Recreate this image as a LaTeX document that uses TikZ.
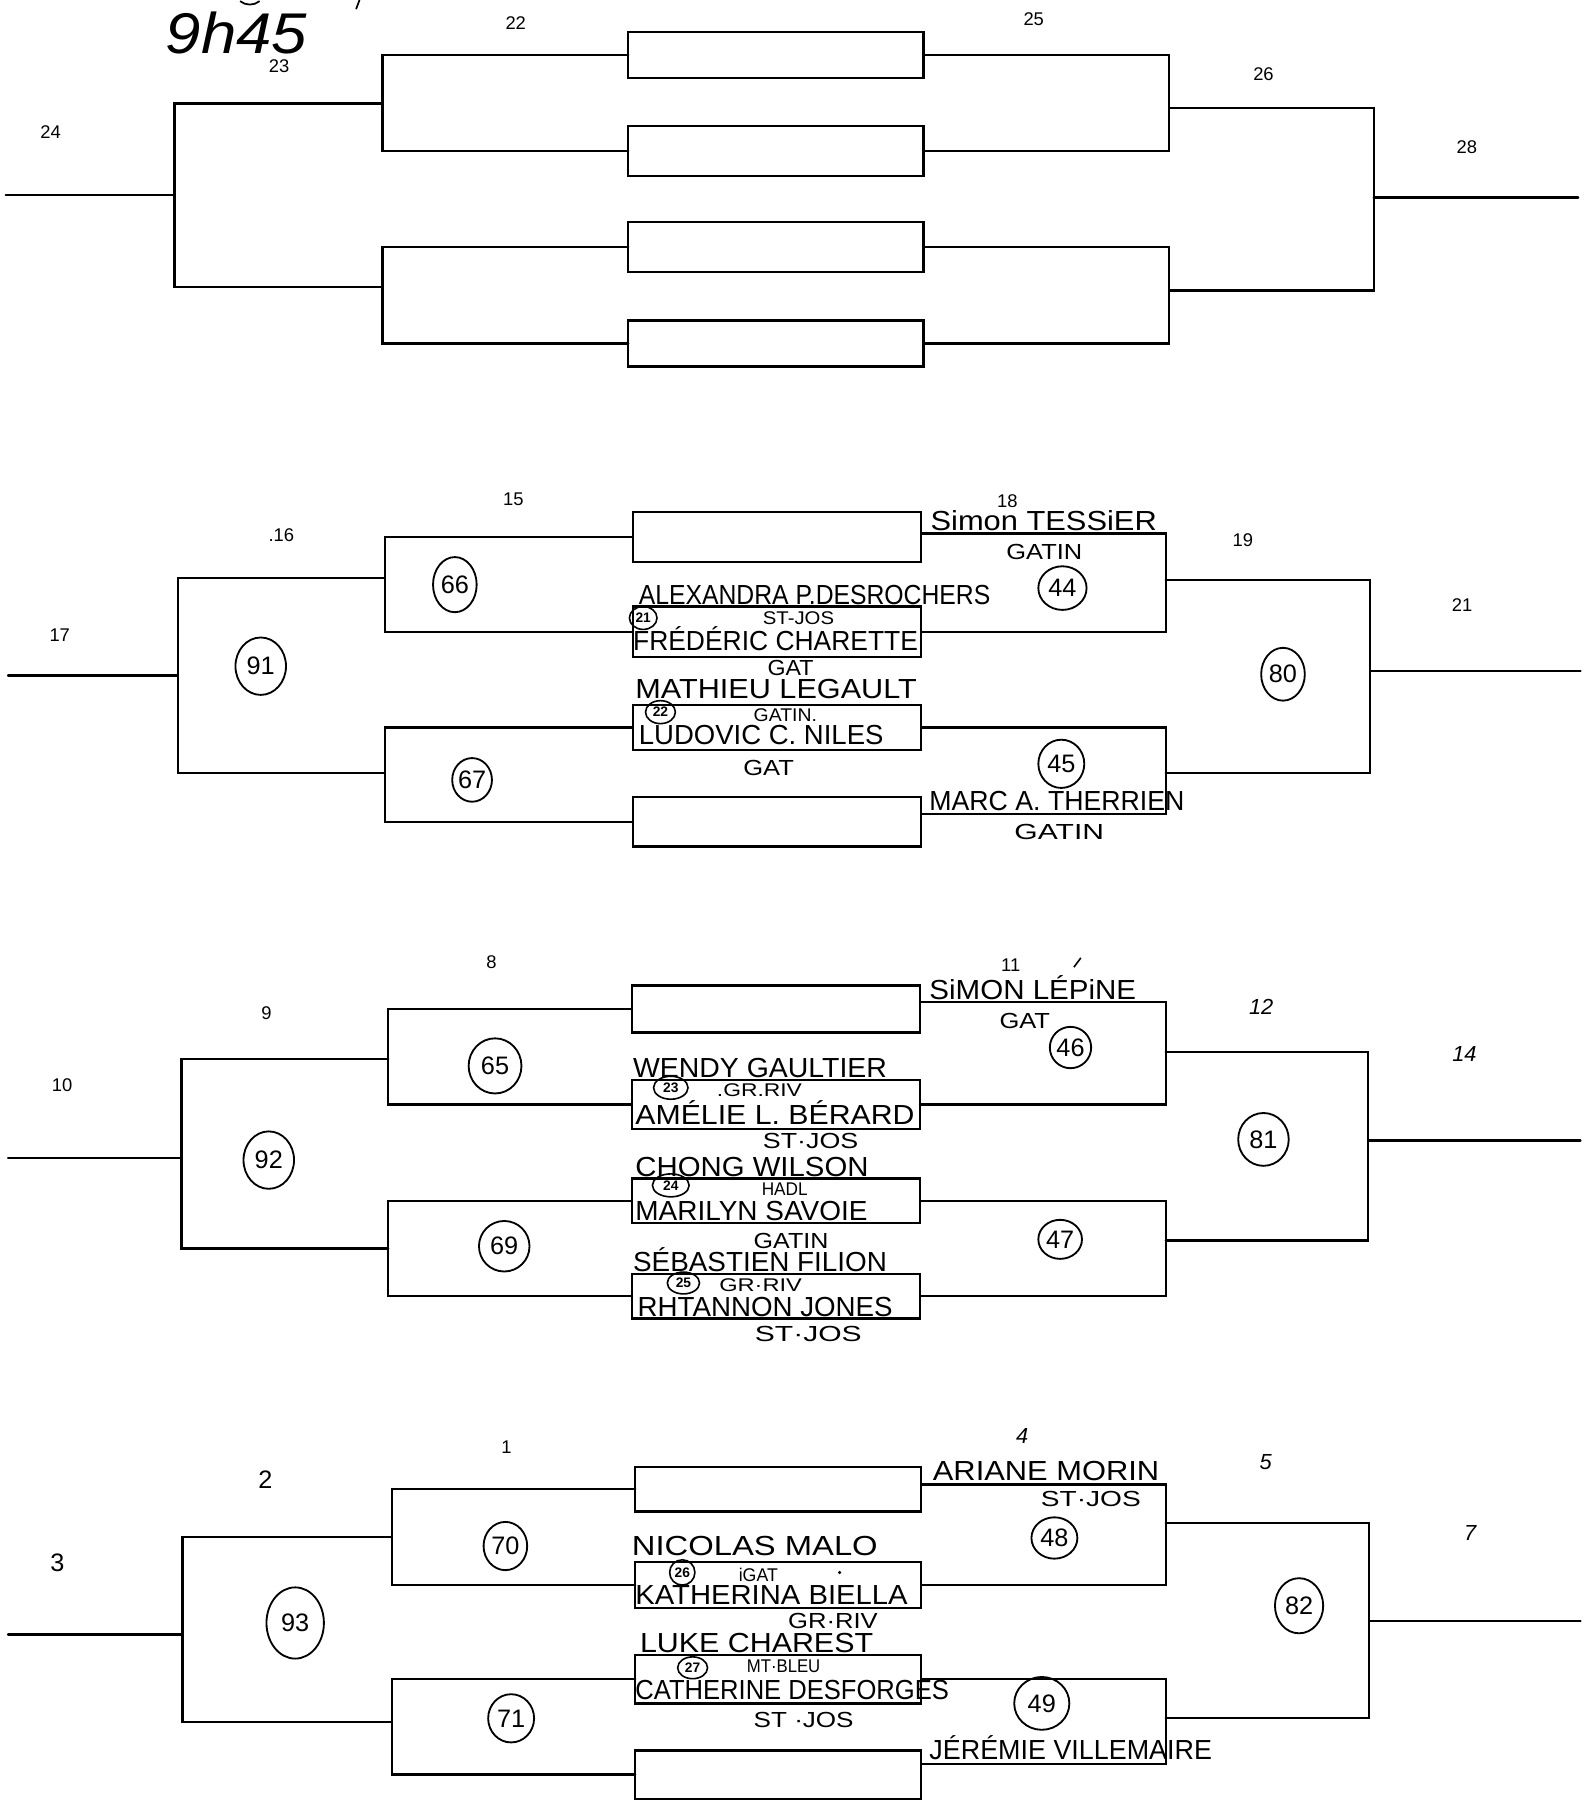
\documentclass[tikz,border=0pt]{standalone}
\usepackage{graphicx}
\usepackage{fontspec}
\setmainfont{Liberation Sans}
\usetikzlibrary{shapes.geometric}
\newcommand\nmtext[2]{\resizebox{#1pt}{\height}{\fontsize{24}{24}\selectfont #2}}
\newcommand\orgtext[2]{\resizebox{#1pt}{\height}{\fontsize{19}{19}\selectfont #2}}
\newcommand\orgsmall[2]{\resizebox{#1pt}{\height}{\fontsize{16}{16}\selectfont #2}}
\newcommand\bx[5]{\node[box, minimum width=#4pt, minimum height=#5pt] (#1) at (#2,#3) {};}
\tikzset{
 ln/.style={line width=2pt, line cap=round},
 box/.style={draw, line width=2pt, inner sep=0pt, outer sep=0pt, anchor=north west},
 lbl/.style={inner sep=0pt, anchor=base west},
 num/.style={inner sep=0pt, font=\fontsize{16}{16}\selectfont},
 hnum/.style={inner sep=0pt, font=\fontsize{19}{19}\selectfont\itshape},
 circ/.style={draw, ellipse, line width=1.6pt, inner sep=0pt, font=\fontsize{22}{22}\selectfont},
 scirc/.style={draw, ellipse, line width=1.4pt, inner sep=0pt, font=\fontsize{12}{12}\selectfont\bfseries},
}
\begin{document}
\begin{tikzpicture}[x=1pt,y=-1pt]
\useasboundingbox[fill=white] (0,0) rectangle (1382,1568);

% ---------- top fragments and time ----------
\draw[line width=1.5pt] (209,1) .. controls (214,5) and (221,5) .. (226,1);
\draw[line width=1.5pt] (313,0) -- (310,8);
\node[num] (n23) at (243,58) {23};
\node[inner sep=0pt] (time) at (206,29) {\resizebox{123pt}{\height}{\fontsize{50}{50}\selectfont\itshape 9h45}};

% ================= SECTION 1 =================
\bx{s1b1}{547}{28}{257}{40}
\bx{s1b2}{547}{110}{257}{43}
\bx{s1b3}{547}{193}{257}{44}
\bx{s1b4}{547}{279}{257}{40}
\coordinate (s1ju) at (333,90);
\coordinate (s1jl) at (333,250);
\coordinate (s1jo) at (152,170);
\coordinate (s1e) at (5,170);
\coordinate (s1ru) at (1018,94);
\coordinate (s1rl) at (1018,253);
\coordinate (s1ro) at (1196,172);
\coordinate (s1f) at (1374,172);
\draw[ln] (s1b1.west) -| (s1ju) |- (s1b2.west);
\draw[ln] (s1b3.west) -| (s1jl) |- (s1b4.west);
\draw[ln] (s1ju) -| (s1jo) |- (s1jl);
\draw[ln] (s1jo) -- (s1e);
\draw[ln] (s1b1.east) -| (s1ru) |- (s1b2.east);
\draw[ln] (s1b3.east) -| (s1rl) |- (s1b4.east);
\draw[ln] (s1ru) -| (s1ro) |- (s1rl);
\draw[ln] (s1ro) -- (s1f);
\node[num] (n22) at (449,20) {22};
\node[num] (n25) at (900,17) {25};
\node[num] (n26) at (1100,65) {26};
\node[num] (n28) at (1277,128) {28};
\node[num] (n24) at (44,115) {24};

% ================= SECTION 2 =================
\bx{s2b1}{551}{446}{251}{43}
\bx{s2b2}{551}{528}{251}{44}
\bx{s2b3}{551}{614}{251}{39}
\bx{s2b4}{551}{694}{251}{43}
\coordinate (s2ju) at (335,503);
\coordinate (s2jl) at (335,673);
\coordinate (s2jo) at (155,588);
\coordinate (s2e) at (7,588);
\coordinate (s2ru) at (1015,505);
\coordinate (s2rl) at (1015,673);
\coordinate (s2ro) at (1193,584);
\coordinate (s2f) at (1376,584);
\draw[ln] (s2b1.west) -| (s2ju) |- (s2b2.west);
\draw[ln] (s2b3.west) -| (s2jl) |- (s2b4.west);
\draw[ln] (s2ju) -| (s2jo) |- (s2jl);
\draw[ln] (s2jo) -- (s2e);
\draw[ln] ([yshift=3pt]s2b1.east) -| (s2ru) |- (s2b2.east);
\draw[ln] (s2b3.east) -| (s2rl) |- ([yshift=7pt]s2b4.east);
\draw[ln] (s2ru) -| (s2ro) |- (s2rl);
\draw[ln] (s2ro) -- (s2f);
\node[num] (n15) at (447,435) {15};
\node[num] (n16) at (245,466) {.16};
\node[num] (n17) at (52,553) {17};
\node[num] (n18) at (877,436) {18};
\node[num] (n19) at (1082,470) {19};
\node[num] (n21) at (1273,527) {21};
\node[circ, minimum width=38pt, minimum height=48pt] (c66) at (396,509) {66};
\node[circ, minimum width=44pt, minimum height=50pt] (c91) at (227,580) {91};
\node[circ, minimum width=34pt, minimum height=38pt] (c67) at (411,679) {67};
\node[circ, minimum width=42pt, minimum height=38pt] (c44) at (925,512) {44};
\node[circ, minimum width=38pt, minimum height=46pt] (c80) at (1117,587) {80};
\node[circ, minimum width=40pt, minimum height=42pt] (c45) at (924,665) {45};
\node[scirc, minimum width=24pt, minimum height=20pt] (c21) at (560,538) {21};
\node[scirc, minimum width=26pt, minimum height=20pt] (c22) at (575,620) {22};
\node[lbl] (t1) at (810,462) {\nmtext{197}{Simon TESSiER}};
\node[lbl] (t2) at (876,487) {\orgtext{66}{GATIN}};
\node[lbl] (t3) at (556,526) {\nmtext{306}{ALEXANDRA P.DESROCHERS}};
\node[lbl] (t4) at (664,544) {\orgsmall{62}{ST-JOS}};
\node[lbl] (t5) at (551,566) {\nmtext{248}{FRÉDÉRIC CHARETTE}};
\node[lbl] (t6) at (668,588) {\orgtext{40}{GAT}};
\node[lbl] (t7) at (553,608) {\nmtext{245}{MATHIEU LEGAULT}};
\node[lbl] (t8) at (656,628) {\orgsmall{55}{GATIN.}};
\node[lbl] (t9) at (556,648) {\nmtext{213}{LUDOVIC C. NILES}};
\node[lbl] (t10) at (647,675) {\orgtext{44}{GAT}};
\node[lbl] (t11) at (809,706) {\nmtext{222}{MARC A. THERRIEN}};
\node[lbl] (t12) at (883,731) {\orgtext{78}{GATIN}};

% ================= SECTION 3 =================
\bx{s3b1}{550}{858}{251}{41}
\bx{s3b2}{550}{940}{251}{43}
\bx{s3b3}{550}{1026}{251}{39}
\bx{s3b4}{550}{1109}{251}{39}
\coordinate (s3ju) at (338,922);
\coordinate (s3jl) at (338,1087);
\coordinate (s3jo) at (158,1008);
\coordinate (s3e) at (7,1008);
\coordinate (s3ru) at (1015,916);
\coordinate (s3rl) at (1015,1080);
\coordinate (s3ro) at (1191,993);
\coordinate (s3f) at (1376,993);
\draw[ln] (s3b1.west) -| (s3ju) |- (s3b2.west);
\draw[ln] (s3b3.west) -| (s3jl) |- (s3b4.west);
\draw[ln] (s3ju) -| (s3jo) |- (s3jl);
\draw[ln] (s3jo) -- (s3e);
\draw[ln] ([yshift=6pt]s3b1.east) -| (s3ru) |- (s3b2.east);
\draw[ln] (s3b3.east) -| (s3rl) |- (s3b4.east);
\draw[ln] (s3ru) -| (s3ro) |- (s3rl);
\draw[ln] (s3ro) -- (s3f);
\node[num] (n8) at (428,838) {8};
\node[num] (n9) at (232,882) {9};
\node[num] (n10) at (54,945) {10};
\node[num] (n11) at (880,840) {11};
\draw[line width=1.4pt] (941,834) -- (935,842);
\node[hnum] (n12) at (1098,877) {12};
\node[hnum] (n14) at (1275,918) {14};
\node[circ, minimum width=46pt, minimum height=48pt] (c65) at (431,928) {65};
\node[circ, minimum width=44pt, minimum height=50pt] (c92) at (234,1010) {92};
\node[circ, minimum width=44pt, minimum height=44pt] (c69) at (439,1085) {69};
\node[circ, minimum width=36pt, minimum height=36pt] (c46) at (932,912) {46};
\node[circ, minimum width=44pt, minimum height=46pt] (c81) at (1100,992) {81};
\node[circ, minimum width=38pt, minimum height=34pt] (c47) at (923,1079) {47};
\node[scirc, minimum width=30pt, minimum height=20pt] (c23) at (584,947) {23};
\node[scirc, minimum width=32pt, minimum height=20pt] (c24) at (584,1032) {24};
\node[scirc, minimum width=28pt, minimum height=19pt] (c25) at (595,1117) {25};
\node[lbl] (u1) at (809,870) {\nmtext{180}{SiMON LÉPiNE}};
\node[lbl] (u2) at (870,895) {\orgtext{44}{GAT}};
\node[lbl] (u3) at (551,938) {\nmtext{221}{WENDY GAULTIER}};
\node[lbl] (u4) at (624,955) {\orgsmall{74}{.GR.RIV}};
\node[lbl] (u5) at (553,979) {\nmtext{243}{AMÉLIE L. BÉRARD}};
\node[lbl] (u6) at (664,1000) {\orgtext{83}{ST·JOS}};
\node[lbl] (u7) at (553,1024) {\nmtext{203}{CHONG WILSON}};
\node[lbl] (u8) at (663,1041) {\orgsmall{40}{HADL}};
\node[lbl] (u9) at (553,1063) {\nmtext{202}{MARILYN SAVOIE}};
\node[lbl] (u10) at (656,1087) {\orgtext{65}{GATIN}};
\node[lbl] (u11) at (551,1107) {\nmtext{221}{SÉBASTIEN FILION}};
\node[lbl] (u12) at (626,1124) {\orgsmall{72}{GR·RIV}};
\node[lbl] (u13) at (555,1146) {\nmtext{222}{RHTANNON JONES}};
\node[lbl] (u14) at (657,1168) {\orgtext{93}{ST·JOS}};

% ================= SECTION 4 =================
\bx{s4b1}{553}{1277}{249}{39}
\bx{s4b2}{553}{1360}{249}{40}
\bx{s4b3}{553}{1441}{249}{42}
\bx{s4b4}{553}{1524}{249}{42}
\coordinate (s4ju) at (341,1338);
\coordinate (s4jl) at (341,1499);
\coordinate (s4jo) at (159,1423);
\coordinate (s4e) at (7,1423);
\coordinate (s4ru) at (1015,1326);
\coordinate (s4rl) at (1015,1496);
\coordinate (s4ro) at (1192,1411);
\coordinate (s4f) at (1376,1411);
\draw[ln] (s4b1.west) -| (s4ju) |- (s4b2.west);
\draw[ln] (s4b3.west) -| (s4jl) |- (s4b4.west);
\draw[ln] (s4ju) -| (s4jo) |- (s4jl);
\draw[ln] (s4jo) -- (s4e);
\draw[ln] ([yshift=4pt]s4b1.east) -| (s4ru) |- (s4b2.east);
\draw[ln] (s4b3.east) -| (s4rl) |- ([yshift=9pt]s4b4.east);
\draw[ln] (s4ru) -| (s4ro) |- (s4rl);
\draw[ln] (s4ro) -- (s4f);
\node[num] (n1) at (441,1260) {1};
\node[num, font=\fontsize{22}{22}\selectfont] (n2) at (231,1288) {2};
\node[num, font=\fontsize{22}{22}\selectfont] (n3) at (50,1361) {3};
\node[hnum] (n4) at (890,1250) {4};
\node[hnum] (n5) at (1102,1273) {5};
\node[hnum] (n7) at (1280,1335) {7};
\node[circ, minimum width=38pt, minimum height=42pt] (c70) at (440,1346) {70};
\node[circ, minimum width=50pt, minimum height=62pt] (c93) at (257,1413) {93};
\node[circ, minimum width=40pt, minimum height=42pt] (c71) at (445,1496) {71};
\node[circ, minimum width=40pt, minimum height=36pt] (c48) at (918,1339) {48};
\node[circ, minimum width=42pt, minimum height=48pt] (c82) at (1131,1398) {82};
\node[circ, minimum width=48pt, minimum height=46pt] (c49) at (907,1483) {49};
\node[scirc, minimum width=22pt, minimum height=22pt] (c26) at (594,1369) {26};
\node[scirc, minimum width=26pt, minimum height=19pt] (c27) at (603,1452) {27};
\node[lbl] (v1) at (812,1289) {\nmtext{197}{ARIANE MORIN}};
\node[lbl] (v2) at (906,1312) {\orgtext{87}{ST·JOS}};
\node[lbl] (v3) at (550,1354) {\nmtext{214}{NICOLAS MALO}};
\node[lbl] (v4) at (643,1377) {\orgsmall{34}{iGAT}};
\fill (731,1369) circle (1.5pt);
\node[lbl] (v5) at (553,1397) {\nmtext{237}{KATHERINA BIELLA}};
\node[lbl] (v6) at (686,1418) {\orgtext{78}{GR·RIV}};
\node[lbl] (v7) at (557,1439) {\nmtext{203}{LUKE CHAREST}};
\node[lbl] (v8) at (650,1456) {\orgsmall{64}{MT·BLEU}};
\node[lbl] (v9) at (553,1480) {\nmtext{273}{CATHERINE DESFORGES}};
\node[lbl] (v10) at (656,1504) {\orgtext{87}{ST ·JOS}};
\node[lbl] (v11) at (809,1532) {\nmtext{246}{JÉRÉMIE VILLEMAIRE}};
\end{tikzpicture}
\end{document}
